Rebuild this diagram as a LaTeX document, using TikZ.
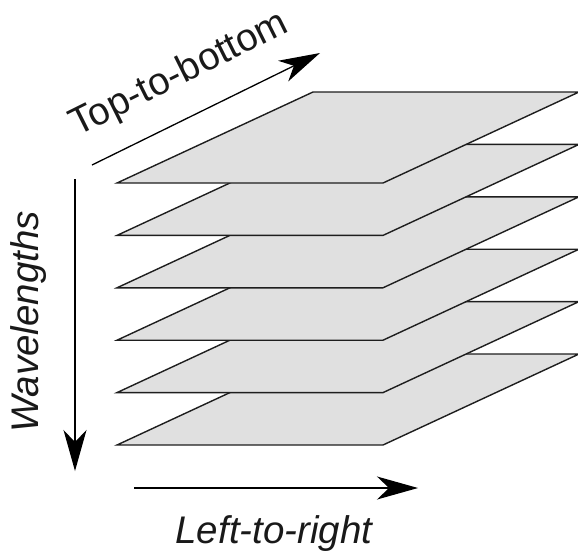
\documentclass[tikz,border=0pt]{standalone}
\usepackage{fontspec}
\setmainfont{Liberation Sans}
\usetikzlibrary{arrows.meta}
\definecolor{platefill}{RGB}{224,224,224}
\definecolor{edgecol}{RGB}{30,30,30}
\begin{document}
\begin{tikzpicture}[x=1pt,y=-1pt,
  plate/.style={fill=platefill, draw=edgecol, line width=1.4pt, line join=miter},
  axisarrow/.style={draw=black, line width=1.3pt, -{Stealth[length=41pt,width=23pt,inset=12pt]}},
  lbl/.style={font=\fontsize{38.5}{38.5}\selectfont, inner sep=0pt, text=black!90}]
\useasboundingbox (0,0) rectangle (578,552);
\begin{scope}
  \clip (0,0) rectangle (578,552);
  \foreach \i in {5,4,...,0}{
    \pgfmathsetmacro\yb{183+52.4*\i}
    \draw[plate] (117,\yb) -- (383,\yb) -- ++(196,-91) -- ++(-266,0) -- cycle;
  }
\end{scope}
\coordinate (tbS) at (92,165);
\coordinate (tbE) at (320,53);
\coordinate (wlS) at (75,179);
\coordinate (wlE) at (75,471);
\coordinate (lrS) at (134,488);
\coordinate (lrE) at (418,488);
\draw[axisarrow] (tbS) -- (tbE);
\draw[axisarrow] (wlS) -- (wlE);
\draw[axisarrow] (lrS) -- (lrE);
\node[lbl, rotate=26.5, anchor=base] (tb) at (184,84) {Top-to-bottom};
\node[lbl, rotate=90, anchor=base] (wl) at (38,322) {\itshape Wavelengths};
\node[lbl, anchor=base] (lr) at (274,543) {\itshape Left-to-right};
\end{tikzpicture}
\end{document}
